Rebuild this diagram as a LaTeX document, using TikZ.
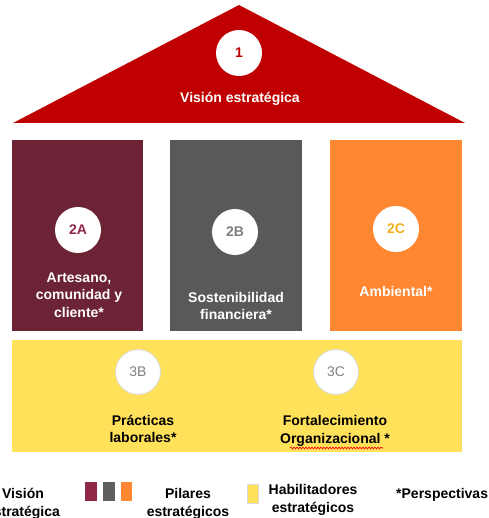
\documentclass[tikz,border=0pt]{standalone}
\usepackage{fontspec}
\setmainfont{Liberation Sans}
\usetikzlibrary{decorations.pathmorphing}
\definecolor{visred}{HTML}{C00000}
\definecolor{pilmaroon}{HTML}{6D2336}
\definecolor{pilmaroontxt}{HTML}{8E2848}
\definecolor{legmaroon}{HTML}{8F2846}
\definecolor{pilgray}{HTML}{595959}
\definecolor{pilgraytxt}{HTML}{7F7F7F}
\definecolor{legray}{HTML}{5F5F5F}
\definecolor{pilorange}{HTML}{FF8731}
\definecolor{pilorangetxt}{HTML}{F2B01E}
\definecolor{habyellow}{HTML}{FFE15A}
\definecolor{circborder}{HTML}{D9D9D9}
\begin{document}
\begin{tikzpicture}[x=1pt,y=-1pt,
  lbl/.style={font=\fontsize{14}{17.5}\selectfont\bfseries, align=center, inner sep=0pt},
  numcirc/.style={circle, fill=white, minimum size=46pt, inner sep=0pt, font=\fontsize{14}{17}\selectfont\bfseries},
  habcirc/.style={circle, fill=white, draw=circborder, line width=0.8pt, minimum size=45pt, inner sep=0pt, font=\fontsize{14}{17}\selectfont, text=pilgraytxt},
  pillar/.style={draw=none, inner sep=0pt}
]
\path[use as bounding box] (0,0) rectangle (488,518);

% roof
\fill[visred] (13,123) -- (239,5) -- (465,123) -- cycle;
\node[numcirc, text=visred] (c1) at (239,53) {1};
\node[lbl, text=white] (t1) at (240,98.5) {Visión estratégica};

% pillars
\fill[pilmaroon] (12,140) rectangle (143,331);
\fill[pilgray] (170,140) rectangle (302,331);
\fill[pilorange] (330,140) rectangle (462,331);

\node[numcirc, text=pilmaroontxt] (c2a) at (78,230) {2A};
\node[numcirc, text=pilgraytxt] (c2b) at (235,232) {2B};
\node[numcirc, text=pilorangetxt] (c2c) at (396,229) {2C};

\node[lbl, text=white] (t2a) at (79,295) {Artesano,\\comunidad y\\cliente*};
\node[lbl, text=white] (t2b) at (236,306) {Sostenibilidad\\financiera*};
\node[lbl, text=white] (t2c) at (396,291) {Ambiental*};

% enablers
\fill[habyellow] (12,340) rectangle (462,452);
\node[habcirc] (c3b) at (138,372) {3B};
\node[habcirc] (c3c) at (336,372) {3C};
\node[lbl, text=black] (t3b) at (143,429) {Prácticas\\laborales*};
\node[lbl, text=black] (t3c) at (335,431) {Fortalecimiento\\Organizacional *};
\draw[red, line width=0.6pt, decorate, decoration={snake, amplitude=1pt, segment length=3pt}] (290,448) -- (383,448);

% legend
\node[lbl, text=black] (lv) at (23,504) {Visión\\estratégica};
\fill[legmaroon] (85,482) rectangle (97,501);
\fill[legray] (103,482) rectangle (115,501);
\fill[pilorange] (121,482) rectangle (132,501);
\node[lbl, text=black] (lp) at (188,504) {Pilares\\estratégicos};
\filldraw[fill=habyellow, draw=circborder, line width=0.8pt] (247,484) rectangle (258,503);
\node[lbl, text=black] (lh) at (313,500) {Habilitadores\\estratégicos};
\node[lbl, text=black, anchor=west] (lpe) at (396,495) {*Perspectivas};
\end{tikzpicture}
\end{document}
